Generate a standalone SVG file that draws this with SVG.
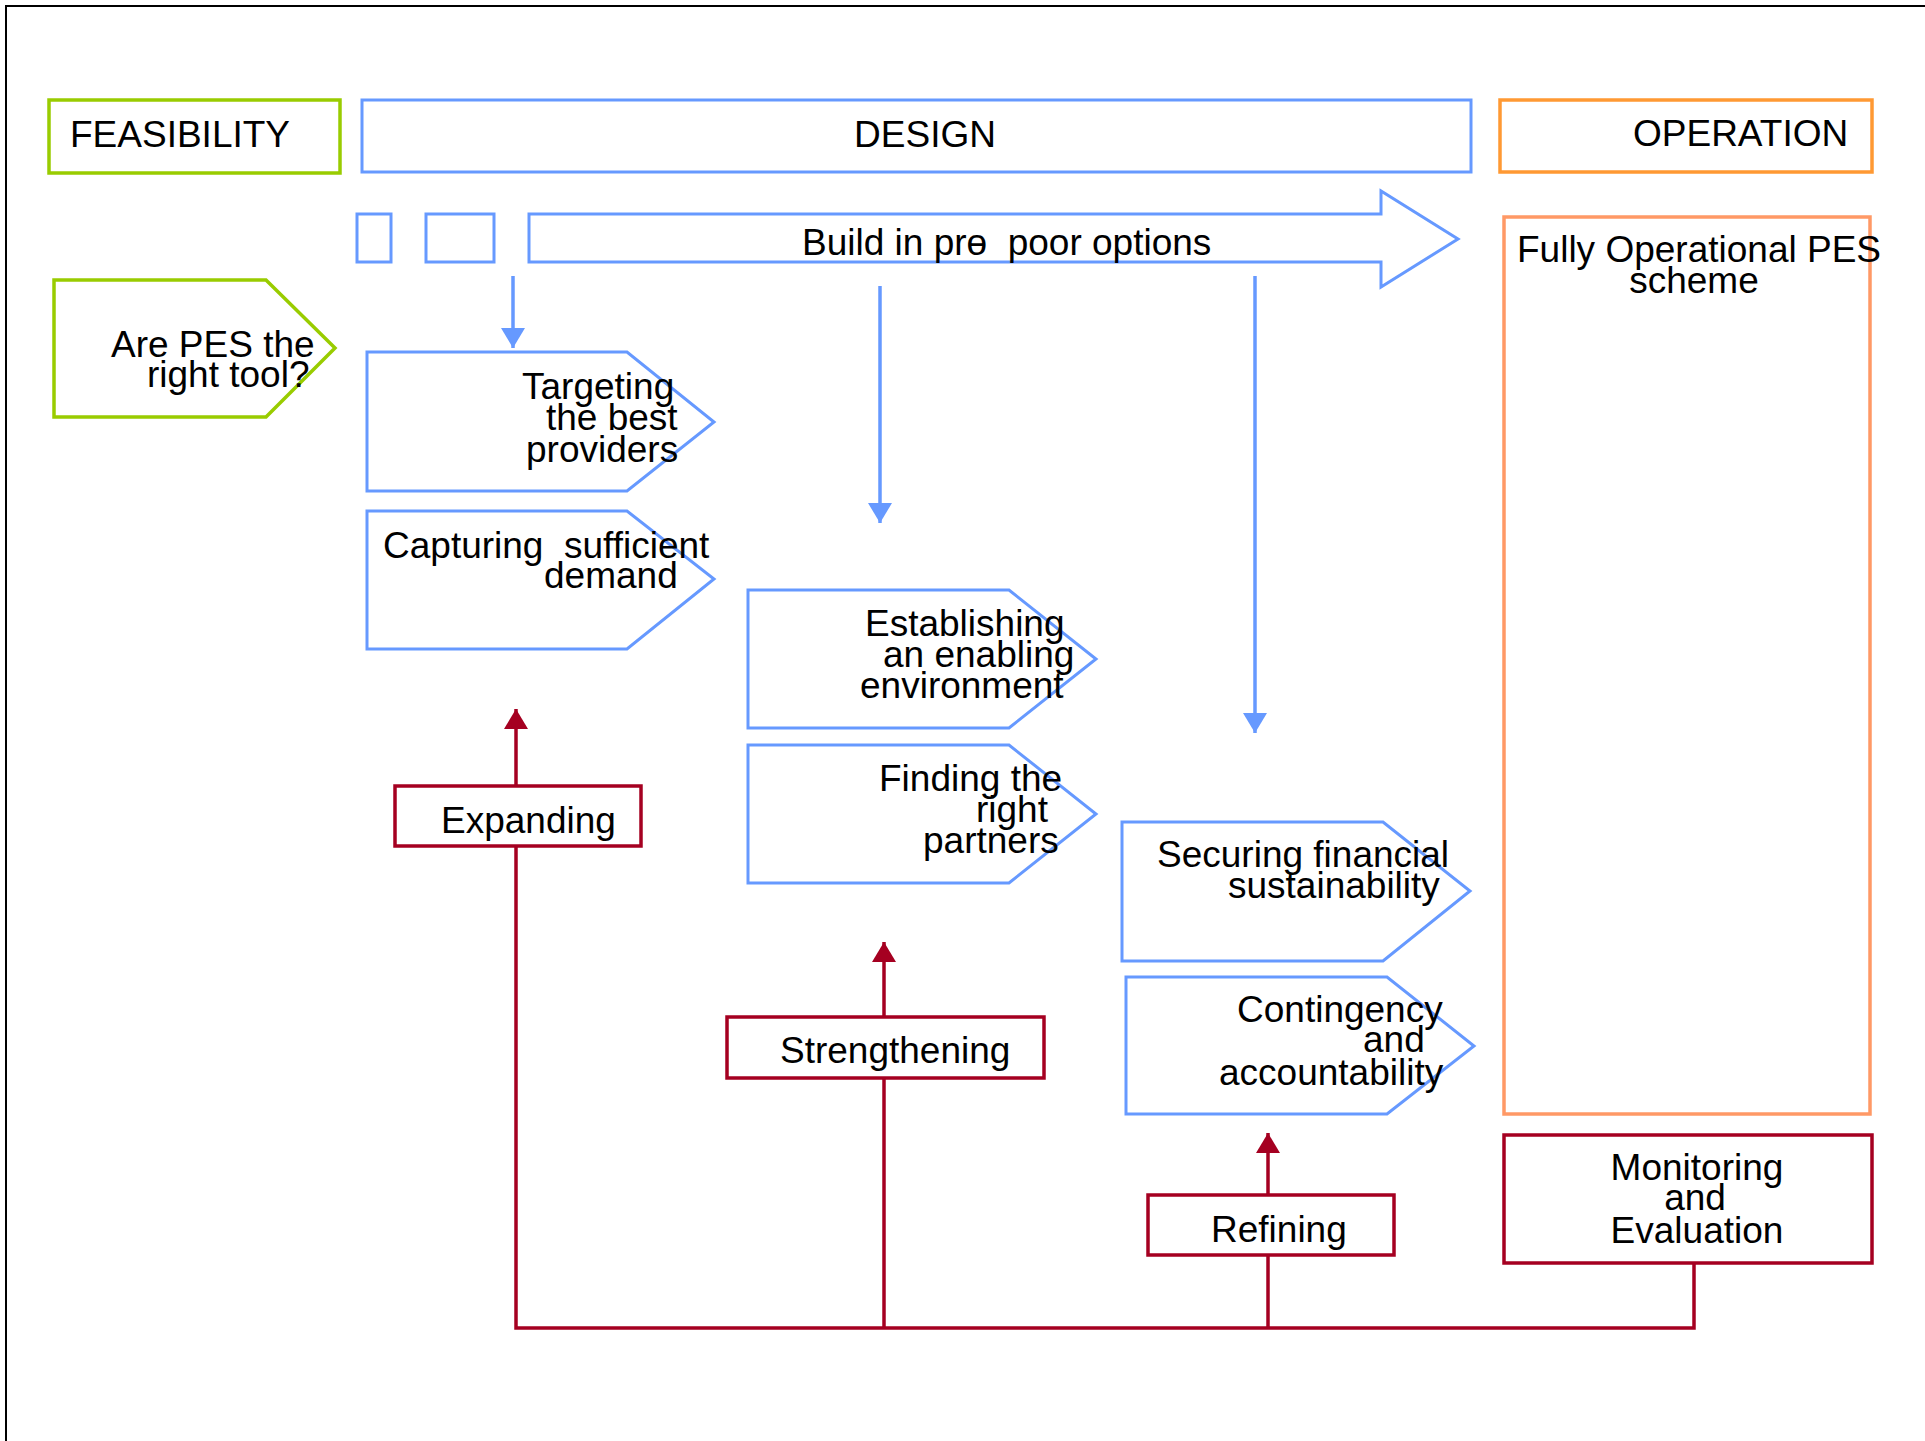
<svg xmlns="http://www.w3.org/2000/svg" width="1925" height="1441" viewBox="0 0 1925 1441">
<defs>
<style>
text{font-family:"Liberation Sans",Arial,sans-serif;font-size:37px;fill:#000;white-space:pre}
.lime{fill:#fff;stroke:#99CC00;stroke-width:3.5}
.blue{fill:#fff;stroke:#6699FF;stroke-width:3}
.orange{fill:#fff;stroke:#FF9933;stroke-width:3.5}
.orange2{fill:none;stroke:#FF9966;stroke-width:3.5}
.red{fill:#fff;stroke:#A50021;stroke-width:3.5}
.bl{fill:none;stroke:#6699FF;stroke-width:3.5}
.rl{fill:none;stroke:#A50021;stroke-width:3.5}
.mid{text-anchor:middle}
</style>
<marker id="ab" viewBox="0 0 20 24" refX="20" refY="12" markerWidth="20" markerHeight="24" markerUnits="userSpaceOnUse" orient="auto"><path d="M0,0 L20,12 L0,24 z" fill="#6699FF"/></marker>
<marker id="ar" viewBox="0 0 20 24" refX="20" refY="12" markerWidth="20" markerHeight="24" markerUnits="userSpaceOnUse" orient="auto"><path d="M0,0 L20,12 L0,24 z" fill="#A50021"/></marker>
</defs>
<rect width="1925" height="1441" fill="#fff"/>
<g id="frame"><path d="M6,1441 V6 H1925" fill="none" stroke="#000" stroke-width="2"/></g>

<g id="feasibility"><rect class="lime" x="49" y="100" width="291" height="73"/><text x="70" y="147">FEASIBILITY</text></g>
<g id="design"><rect class="blue" x="362" y="100" width="1109" height="72"/><text class="mid" x="925" y="147">DESIGN</text></g>
<g id="operation"><rect class="orange" x="1500" y="100" width="372" height="72"/><text x="1633" y="146">OPERATION</text></g>

<g id="build-pro-poor">
<rect class="blue" x="357" y="214" width="34" height="48"/>
<rect class="blue" x="426" y="214" width="68" height="48"/>
<polygon class="blue" points="529,214 1381,214 1381,191 1458,239 1381,287 1381,262 529,262"/>
<text x="802" y="255">Build in prɵ  poor options</text>
</g>

<g id="fully-operational"><rect class="orange2" x="1504" y="217" width="366" height="897"/>
<text x="1517" y="262">Fully Operational PES</text><text class="mid" x="1694" y="293">scheme</text></g>

<g id="right-tool"><polygon class="lime" points="54,280 266,280 335,348 266,417 54,417"/>
<text x="111" y="357">Are PES the</text><text x="147" y="387">right tool?</text></g>

<g id="targeting"><polygon class="blue" points="367,352 627,352 714,422 627,491 367,491"/>
<text x="522" y="399">Targeting</text><text x="546" y="430">the best</text><text x="526" y="462">providers</text></g>

<g id="capturing"><polygon class="blue" points="367,511 627,511 714,579 627,649 367,649"/>
<text x="383" y="558">Capturing  sufficient</text><text x="544" y="588">demand</text></g>

<g id="establishing"><polygon class="blue" points="748,590 1009,590 1096,659 1009,728 748,728"/>
<text x="865" y="636">Establishing</text><text x="883" y="667">an enabling</text><text x="860" y="698">environment</text></g>

<g id="finding"><polygon class="blue" points="748,745 1009,745 1096,814 1009,883 748,883"/>
<text x="879" y="791">Finding the</text><text x="976" y="822">right</text><text x="923" y="853">partners</text></g>

<g id="securing"><polygon class="blue" points="1122,822 1383,822 1470,891 1383,961 1122,961"/>
<text x="1157" y="867">Securing financial</text><text x="1228" y="898">sustainability</text></g>

<g id="contingency"><polygon class="blue" points="1126,977 1387,977 1474,1046 1387,1114 1126,1114"/>
<text x="1237" y="1022">Contingency</text><text x="1363" y="1052">and</text><text x="1219" y="1085">accountability</text></g>

<g id="expanding"><rect class="red" x="395" y="786" width="246" height="60"/><text x="441" y="833">Expanding</text></g>
<g id="strengthening"><rect class="red" x="727" y="1017" width="317" height="61"/><text x="780" y="1063">Strengthening</text></g>
<g id="refining"><rect class="red" x="1148" y="1195" width="246" height="60"/><text x="1211" y="1242">Refining</text></g>
<g id="monitoring"><rect class="red" x="1504" y="1135" width="368" height="128"/>
<text class="mid" x="1697" y="1180">Monitoring</text><text class="mid" x="1695" y="1210">and</text><text class="mid" x="1697" y="1243">Evaluation</text></g>

<g id="connectors">
<line class="bl" x1="513" y1="276" x2="513" y2="348" marker-end="url(#ab)"/>
<line class="bl" x1="880" y1="286" x2="880" y2="523" marker-end="url(#ab)"/>
<line class="bl" x1="1255" y1="276" x2="1255" y2="733" marker-end="url(#ab)"/>
<line class="rl" x1="516" y1="786" x2="516" y2="709" marker-end="url(#ar)"/>
<line class="rl" x1="884" y1="1017" x2="884" y2="942" marker-end="url(#ar)"/>
<line class="rl" x1="1268" y1="1195" x2="1268" y2="1133" marker-end="url(#ar)"/>
<path class="rl" d="M516,846 V1328 H1694 V1263"/>
<path class="rl" d="M884,1078 V1328"/>
<path class="rl" d="M1268,1255 V1328"/>
</g>
</svg>
